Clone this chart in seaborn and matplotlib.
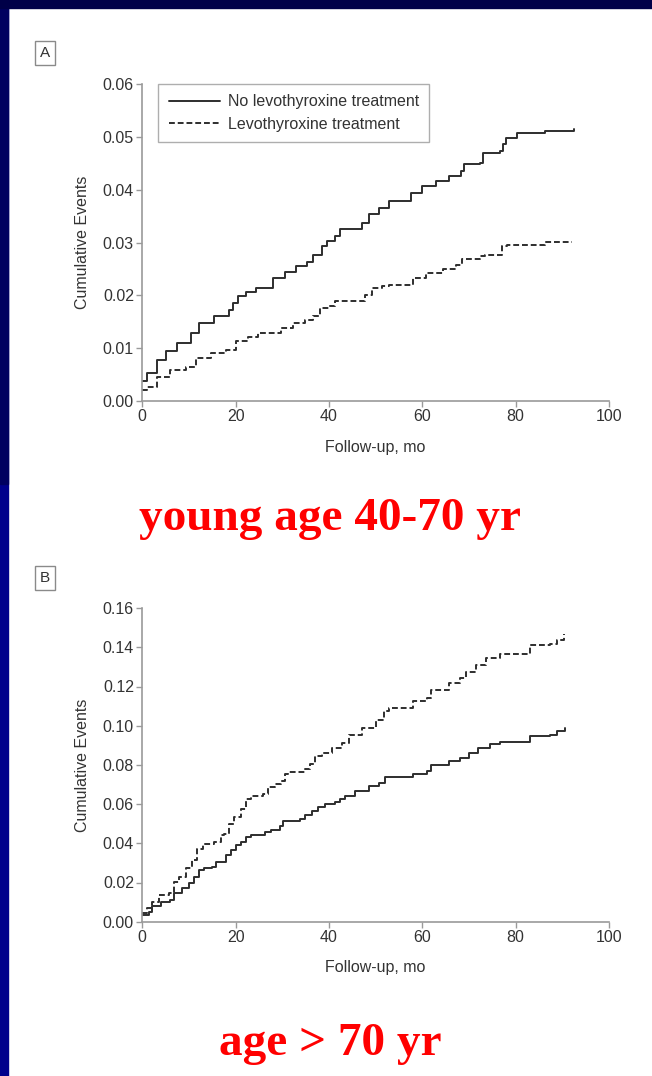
import matplotlib
matplotlib.use("Agg")
import matplotlib.pyplot as plt
import seaborn as sns
import numpy as np
import pandas as pd

# panel A: age 40-70 yr
a_no_t = [0, 0.9, 3.2, 5, 7.5, 10.4, 12.2, 15.4, 18.6, 19.4, 20.4, 22.2, 24.4, 28, 30.5, 33, 35.2,
          36.6, 38.4, 39.5, 41.3, 42.4, 47.1, 48.5, 50.7, 52.8, 57.5, 60, 62.9, 65.8, 68.3, 69,
          72.3, 73, 76.6, 77.3, 78, 80.2, 86.3, 92.5]
a_no_v = [0.0037, 0.0053, 0.0078, 0.0094, 0.011, 0.0128, 0.0147, 0.016, 0.0173, 0.0185, 0.0198,
          0.0207, 0.0214, 0.0233, 0.0245, 0.0255, 0.0264, 0.0277, 0.0293, 0.0302, 0.0312, 0.0326,
          0.0337, 0.0353, 0.0366, 0.0378, 0.0394, 0.0406, 0.0416, 0.0426, 0.0435, 0.0448, 0.0451,
          0.047, 0.0473, 0.0486, 0.0497, 0.0507, 0.0511, 0.0515]
a_lt_t = [0, 1, 3.2, 6, 9.3, 11.4, 14.7, 17.9, 20.1, 22.6, 24.8, 29.8, 32.3, 34.8, 36.6, 38.1,
          39.9, 41.3, 47.8, 49.2, 51.4, 52.8, 57.9, 60.8, 64.4, 67.3, 68.4, 72.3, 73.4, 77, 78.1,
          86.3, 92]
a_lt_v = [0.0021, 0.0027, 0.0046, 0.0059, 0.0065, 0.0081, 0.009, 0.0097, 0.0113, 0.0122, 0.0128,
          0.0138, 0.0147, 0.0154, 0.016, 0.0176, 0.0179, 0.0189, 0.0201, 0.0214, 0.0217, 0.022,
          0.0233, 0.0242, 0.025, 0.0258, 0.0268, 0.0274, 0.0277, 0.0293, 0.0296, 0.0301, 0.0301]

# panel B: age > 70 yr
b_no_t = [0, 1.4, 2.1, 3.9, 6, 6.8, 8.6, 10, 11.1, 12.2, 13.2, 15, 15.8, 17.9, 19, 20.1, 21.2,
          22.2, 23.3, 26.2, 27.6, 29.4, 30.2, 33.8, 34.8, 36.3, 37.7, 39.2, 41.3, 42.4, 43.5, 45.6,
          48.5, 50.7, 52.1, 57.9, 61.1, 61.8, 65.8, 68, 70.1, 71.9, 74.4, 76.6, 83.1, 87.4, 88.8, 90.6]
b_no_v = [0.0035, 0.0052, 0.0078, 0.0103, 0.0111, 0.0145, 0.017, 0.0196, 0.0229, 0.0263, 0.0272,
          0.028, 0.0305, 0.0339, 0.0365, 0.039, 0.0407, 0.0432, 0.044, 0.0457, 0.0469, 0.0486,
          0.0516, 0.0525, 0.0542, 0.0567, 0.0584, 0.0601, 0.0609, 0.0626, 0.0643, 0.0668, 0.0694,
          0.071, 0.0736, 0.0753, 0.077, 0.0798, 0.082, 0.0837, 0.0862, 0.0888, 0.0905, 0.0918,
          0.0947, 0.0955, 0.0972, 0.0989]
b_lt_t = [0, 1, 2.1, 3.5, 5.7, 6.8, 7.8, 9.3, 10.7, 11.8, 12.9, 15.4, 16.8, 17.6, 18.6, 19.7, 21.2,
          22.2, 23.3, 25.9, 26.9, 28.4, 29.8, 30.5, 31.2, 34.8, 35.9, 37, 38.4, 40.6, 42.8, 44.2,
          47.1, 50, 51.8, 52.8, 57.9, 61.1, 61.8, 65.8, 68, 69.4, 71.6, 73.7, 76.6, 83.1, 87.4,
          88.8, 90.3]
b_lt_v = [0.0044, 0.0069, 0.0103, 0.0137, 0.0145, 0.0204, 0.0229, 0.0272, 0.0314, 0.0373, 0.0398,
          0.0407, 0.044, 0.0449, 0.05, 0.0533, 0.0576, 0.0626, 0.0643, 0.0652, 0.0685, 0.0702,
          0.0719, 0.0753, 0.0766, 0.0778, 0.0803, 0.0846, 0.0862, 0.0888, 0.0913, 0.0955, 0.0989,
          0.1031, 0.1073, 0.109, 0.1124, 0.1141, 0.118, 0.1217, 0.1242, 0.1276, 0.131, 0.1343,
          0.1365, 0.1411, 0.1419, 0.1436, 0.147]

groups = ["No levothyroxine treatment", "Levothyroxine treatment"]
x_ticks = [0, 20, 40, 60, 80, 100]
a_yticks = [0.00, 0.01, 0.02, 0.03, 0.04, 0.05, 0.06]
b_yticks = [0.00, 0.02, 0.04, 0.06, 0.08, 0.10, 0.12, 0.14, 0.16]
titles = ["young age 40-70 yr", "age > 70 yr"]

sns.set_style("white")
plt.rcParams['font.family'] = ['Liberation Sans', 'DejaVu Sans']

W, H = 652, 1076
fig = plt.figure(figsize=(W / 100, H / 100), dpi=100)
fig.patch.set_facecolor("white")

# dark blue slide frame
bg = fig.add_axes([0, 0, 1, 1], zorder=-5)
bg.axis("off")
bg.add_patch(plt.Rectangle((0, 0), 8 / W, 1, color="#00008c", transform=bg.transAxes))
bg.add_patch(plt.Rectangle((0, 0.55), 8 / W, 0.45, color="#000060", transform=bg.transAxes))
bg.add_patch(plt.Rectangle((0, 1 - 8 / H), 1, 8 / H, color="#000048", transform=bg.transAxes))

txt = "#333333"
rect_letter = {"A": 53, "B": 578}


def make_df(t1, v1, t2, v2):
    d1 = pd.DataFrame({"time": t1, "cum": v1, "group": groups[0]})
    d2 = pd.DataFrame({"time": t2, "cum": v2, "group": groups[1]})
    return pd.concat([d1, d2], ignore_index=True)


def draw_panel(rect, df, yticks, ymax, letter, show_legend):
    ax = fig.add_axes(rect)
    sns.lineplot(data=df, x="time", y="cum", hue="group", style="group",
                 hue_order=groups, style_order=groups,
                 palette=["#2e2e2e", "#2e2e2e"], dashes=["", (3.0, 1.5)],
                 drawstyle="steps-post", estimator=None, sort=False,
                 linewidth=1.4, ax=ax, legend=show_legend)
    ax.set_xlim(0, 100)
    ax.set_ylim(0, ymax)
    ax.set_xticks(x_ticks)
    ax.set_yticks(yticks)
    ax.set_yticklabels(["%.2f" % y for y in yticks])
    for s in ["top", "right"]:
        ax.spines[s].set_visible(False)
    for s in ["left", "bottom"]:
        ax.spines[s].set_color("#9a9a9a")
        ax.spines[s].set_linewidth(1.2)
    ax.tick_params(axis="both", which="both", direction="out", length=4, width=1,
                   color="#9a9a9a", labelsize=11.5, labelcolor=txt, pad=2,
                   left=True, bottom=True)
    ax.set_xlabel("Follow-up, mo", fontsize=11.5, color=txt, labelpad=11)
    ax.set_ylabel("Cumulative Events", fontsize=11.5, color=txt, labelpad=9)
    ax.set_facecolor("white")
    if show_legend:
        leg = ax.legend(loc="upper left", bbox_to_anchor=(0.034, 1.0), fontsize=11.5,
                        frameon=True, fancybox=False, handlelength=3.2,
                        borderpad=0.65, labelspacing=0.45, handletextpad=0.5,
                        borderaxespad=0)
        leg.get_frame().set_edgecolor("#9a9a9a")
        leg.get_frame().set_linewidth(1.0)
        for t in leg.get_texts():
            t.set_color(txt)
    # panel letter in a box
    fig.text(45 / W, 1 - rect_letter[letter] / H, letter, fontsize=11, color=txt,
             ha="center", va="center",
             bbox=dict(boxstyle="square,pad=0.35", fc="white", ec="#8a8a8a", lw=1))
    return ax


dfa = make_df(a_no_t, a_no_v, a_lt_t, a_lt_v)
dfb = make_df(b_no_t, b_no_v, b_lt_t, b_lt_v)

draw_panel([142.3 / W, 1 - 401 / H, 466.7 / W, 317 / H], dfa, a_yticks, 0.06, "A", True)
draw_panel([142.3 / W, 1 - 921.7 / H, 466.7 / W, 313.6 / H], dfb, b_yticks, 0.16, "B", False)

fig.text(330 / W, 1 - 519 / H, titles[0], fontsize=34, color="#ff0000", fontweight="bold",
         family="Liberation Serif", ha="center", va="center")
fig.text(330 / W, 1 - 1044 / H, titles[1], fontsize=34, color="#ff0000", fontweight="bold",
         family="Liberation Serif", ha="center", va="center")

fig.savefig("out.png", dpi=100, facecolor=fig.get_facecolor())
